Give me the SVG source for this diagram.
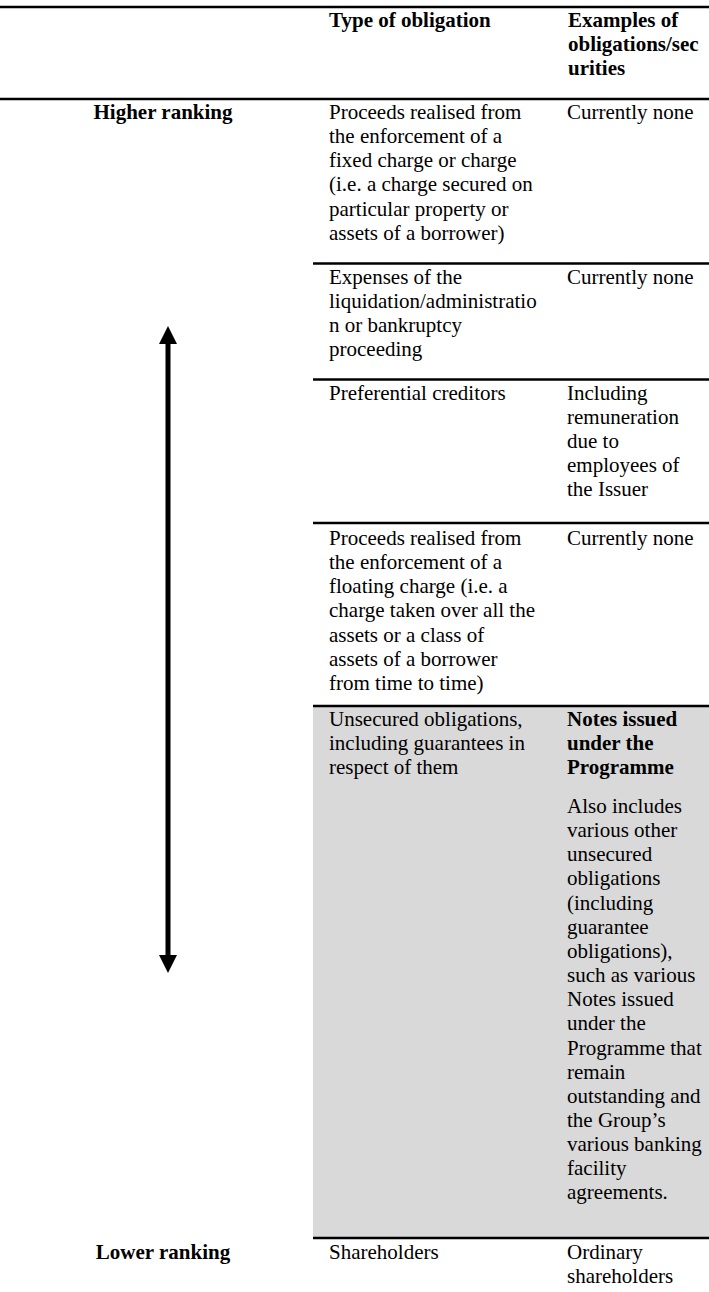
<svg xmlns="http://www.w3.org/2000/svg" width="709" height="1292" viewBox="0 0 709 1292">
<style>
text{font-family:"Liberation Serif","Times New Roman",serif;font-size:21px;fill:#000}
.b{font-weight:bold}
.c{text-anchor:middle}
.rule{stroke:#000;stroke-width:2.5}
</style>
<defs>
<marker id="ah" viewBox="0 0 18 18" refX="4" refY="9" markerWidth="18" markerHeight="18" markerUnits="userSpaceOnUse" orient="auto-start-reverse">
<path d="M0,0 L18,9 L0,18 z" fill="#000"/>
</marker>
</defs>
<rect id="shade" x="313" y="706" width="396" height="532" fill="#d9d9d9"/>
<g id="rules">
<line class="rule" x1="0" y1="7" x2="709" y2="7"/>
<line class="rule" x1="0" y1="99" x2="709" y2="99"/>
<line class="rule" x1="313" y1="263.5" x2="709" y2="263.5"/>
<line class="rule" x1="313" y1="379.5" x2="709" y2="379.5"/>
<line class="rule" x1="313" y1="523" x2="709" y2="523"/>
<line class="rule" x1="313" y1="706" x2="709" y2="706"/>
<line class="rule" x1="313" y1="1238" x2="709" y2="1238"/>
</g>
<g id="header">
<text class="b" x="329" y="27">Type of obligation</text>
<text class="b" x="568" y="27">Examples of</text>
<text class="b" x="568" y="51">obligations/sec</text>
<text class="b" x="568" y="75">urities</text>
</g>
<g id="higher-ranking"><text class="b c" x="163" y="119">Higher ranking</text></g>
<g id="row-fixed-charge">
<text x="329" y="119">Proceeds realised from</text>
<text x="329" y="143.15">the enforcement of a</text>
<text x="329" y="167.3">fixed charge or charge</text>
<text x="329" y="191.45">(i.e. a charge secured on</text>
<text x="329" y="215.6">particular property or</text>
<text x="329" y="239.75">assets of a borrower)</text>
<text x="567" y="119">Currently none</text>
</g>
<g id="row-expenses">
<text x="329" y="283.5">Expenses of the</text>
<text x="329" y="307.65">liquidation/administratio</text>
<text x="329" y="331.8">n or bankruptcy</text>
<text x="329" y="355.95">proceeding</text>
<text x="567" y="283.5">Currently none</text>
</g>
<g id="row-preferential">
<text x="329" y="399.5">Preferential creditors</text>
<text x="567" y="399.5">Including</text>
<text x="567" y="423.65">remuneration</text>
<text x="567" y="447.8">due to</text>
<text x="567" y="471.95">employees of</text>
<text x="567" y="496.1">the Issuer</text>
</g>
<g id="row-floating-charge">
<text x="329" y="545">Proceeds realised from</text>
<text x="329" y="569.15">the enforcement of a</text>
<text x="329" y="593.3">floating charge (i.e. a</text>
<text x="329" y="617.45">charge taken over all the</text>
<text x="329" y="641.6">assets or a class of</text>
<text x="329" y="665.75">assets of a borrower</text>
<text x="329" y="689.9">from time to time)</text>
<text x="567" y="545">Currently none</text>
</g>
<g id="row-unsecured">
<text x="329" y="726">Unsecured obligations,</text>
<text x="329" y="750.15">including guarantees in</text>
<text x="329" y="774.3">respect of them</text>
<text class="b" x="567" y="726">Notes issued</text>
<text class="b" x="567" y="750.15">under the</text>
<text class="b" x="567" y="774.3">Programme</text>
<text x="567" y="813">Also includes</text>
<text x="567" y="837.15">various other</text>
<text x="567" y="861.3">unsecured</text>
<text x="567" y="885.45">obligations</text>
<text x="567" y="909.6">(including</text>
<text x="567" y="933.75">guarantee</text>
<text x="567" y="957.9">obligations),</text>
<text x="567" y="982.05">such as various</text>
<text x="567" y="1006.2">Notes issued</text>
<text x="567" y="1030.35">under the</text>
<text x="567" y="1054.5">Programme that</text>
<text x="567" y="1078.65">remain</text>
<text x="567" y="1102.8">outstanding and</text>
<text x="567" y="1126.95">the Group’s</text>
<text x="567" y="1151.1">various banking</text>
<text x="567" y="1175.25">facility</text>
<text x="567" y="1199.4">agreements.</text>
</g>
<g id="lower-ranking"><text class="b c" x="163" y="1259">Lower ranking</text></g>
<g id="row-shareholders">
<text x="329" y="1259">Shareholders</text>
<text x="567" y="1259">Ordinary</text>
<text x="567" y="1283.15">shareholders</text>
</g>
<g id="connectors">
<line x1="168" y1="340" x2="168" y2="959" stroke="#000" stroke-width="5" marker-start="url(#ah)" marker-end="url(#ah)"/>
</g>
</svg>
